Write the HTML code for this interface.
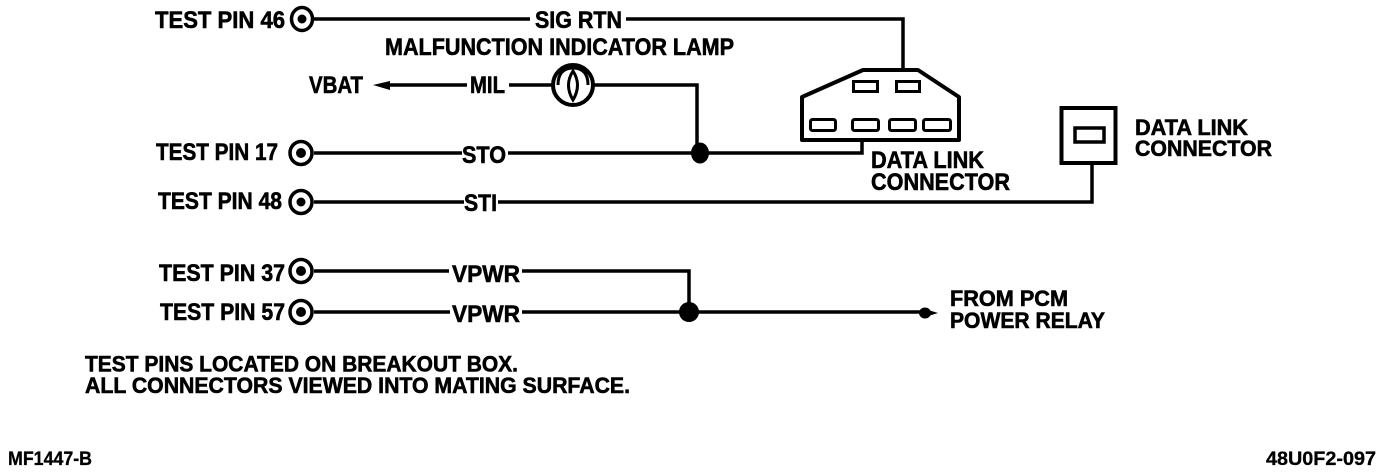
<!DOCTYPE html>
<html>
<head>
<meta charset="utf-8">
<style>
html,body{margin:0;padding:0;background:#fff;width:1392px;height:472px;overflow:hidden}
svg{display:block}
text{font-family:"Liberation Sans",sans-serif;font-weight:bold;fill:#000;stroke:#000;stroke-width:.6px}
.w{fill:none;stroke:#000;stroke-width:3.5}
.s{fill:none;stroke:#000;stroke-width:3}
</style>
</head>
<body>
<svg width="1392" height="472" viewBox="0 0 1392 472" xmlns="http://www.w3.org/2000/svg">
<rect width="1392" height="472" fill="#fff"/>

<!-- wires -->
<path class="w" d="M314 19H530M626 19H903V70"/>
<path class="w" d="M385 85H467M509 85H553M594 85H697V153"/>
<path class="w" d="M314 153H462M508 153H862V140"/>
<path class="w" d="M314 202H464M498 202H1092V163"/>
<path class="w" d="M314 271H449M522 271H689V312"/>
<path class="w" d="M314 312H450M522 312H924"/>

<!-- arrowheads -->
<path d="M373 85L390 81V90Z" fill="#000"/>
<ellipse cx="925" cy="313" rx="6" ry="5.500" fill="#000"/>
<path d="M925 309L938 313L925 317Z" fill="#000"/>

<!-- junctions -->
<ellipse cx="700" cy="153" rx="9" ry="10.500" fill="#000"/>
<circle cx="689" cy="312" r="10" fill="#000"/>

<!-- test pins -->
<g fill="#000">
<circle cx="302" cy="19" r="4.500"/>
<circle cx="301" cy="153" r="5"/>
<circle cx="301" cy="202" r="4.500"/>
<circle cx="301" cy="271" r="5"/>
<circle cx="301" cy="312" r="5"/>
</g>
<g fill="none" stroke="#000" stroke-width="3.500">
<ellipse cx="302" cy="19" rx="10.500" ry="11.500"/>
<ellipse cx="301" cy="153" rx="11" ry="11.500"/>
<ellipse cx="301" cy="202" rx="11" ry="11.500"/>
<ellipse cx="301" cy="271" rx="11" ry="11.500"/>
<ellipse cx="301" cy="312" rx="11" ry="11.500"/>
</g>

<!-- lamp -->
<circle cx="573" cy="85" r="20" fill="#fff" stroke="#000" stroke-width="4"/>
<path d="M558 85Q558 68 573 68Q588 68 588 85" fill="none" stroke="#000" stroke-width="3"/>
<path d="M573 71Q564 85 573 100Q582 85 573 71Z" fill="#fff" stroke="#000" stroke-width="3"/>

<!-- data link connector, large -->
<path d="M802 97L863 70H918L959 97V140H802Z" fill="#fff" stroke="#000" stroke-width="4" stroke-linejoin="round"/>
<g class="s">
<rect x="853.500" y="81.500" width="24" height="10" class="s"/>
<rect x="896.500" y="81.500" width="23" height="10" class="s"/>
<rect x="810.500" y="119.500" width="25" height="11" rx="2" class="s"/>
<rect x="852.500" y="119.500" width="26" height="11" rx="2" class="s"/>
<rect x="889.500" y="119.500" width="26" height="11" rx="2" class="s"/>
<rect x="923.500" y="119.500" width="27" height="11" rx="2" class="s"/>
</g>

<!-- data link connector, small -->
<rect x="1061.500" y="108" width="54" height="55" fill="#fff" stroke="#000" stroke-width="4"/>
<rect x="1075" y="128" width="29" height="14" fill="#fff" stroke="#000" stroke-width="3.500"/>

<!-- labels -->
<g font-size="24">
<text x="155" y="28" textLength="130" lengthAdjust="spacingAndGlyphs">TEST PIN 46</text>
<text x="156" y="160" textLength="122" lengthAdjust="spacingAndGlyphs">TEST PIN 17</text>
<text x="158" y="209" textLength="124" lengthAdjust="spacingAndGlyphs">TEST PIN 48</text>
<text x="159" y="281" textLength="126" lengthAdjust="spacingAndGlyphs">TEST PIN 37</text>
<text x="160" y="320" textLength="125" lengthAdjust="spacingAndGlyphs">TEST PIN 57</text>
<text x="535" y="28" textLength="87" lengthAdjust="spacingAndGlyphs">SIG RTN</text>
<text x="385" y="55" textLength="349" lengthAdjust="spacingAndGlyphs">MALFUNCTION INDICATOR LAMP</text>
<text x="309" y="93" textLength="54" lengthAdjust="spacingAndGlyphs">VBAT</text>
<text x="470" y="93" textLength="35" lengthAdjust="spacingAndGlyphs">MIL</text>
<text x="462" y="163" textLength="44" lengthAdjust="spacingAndGlyphs">STO</text>
<text x="464" y="211" textLength="33" lengthAdjust="spacingAndGlyphs">STI</text>
<text x="452" y="282" textLength="68" lengthAdjust="spacingAndGlyphs">VPWR</text>
<text x="452" y="322" textLength="68" lengthAdjust="spacingAndGlyphs">VPWR</text>
<text x="871" y="168" textLength="113" lengthAdjust="spacingAndGlyphs">DATA LINK</text>
<text x="871" y="190" textLength="139" lengthAdjust="spacingAndGlyphs">CONNECTOR</text>
</g>
<g font-size="22">
<text x="1135" y="135" textLength="113" lengthAdjust="spacingAndGlyphs">DATA LINK</text>
<text x="1135" y="156" textLength="137" lengthAdjust="spacingAndGlyphs">CONNECTOR</text>
<text x="950" y="306" textLength="118" lengthAdjust="spacingAndGlyphs">FROM PCM</text>
<text x="950" y="328" textLength="155" lengthAdjust="spacingAndGlyphs">POWER RELAY</text>
<text x="85" y="371.500" textLength="433" lengthAdjust="spacingAndGlyphs">TEST PINS LOCATED ON BREAKOUT BOX.</text>
<text x="85" y="393" textLength="545" lengthAdjust="spacingAndGlyphs">ALL CONNECTORS VIEWED INTO MATING SURFACE.</text>
</g>
<g font-size="19">
<text x="8" y="465" textLength="84" lengthAdjust="spacingAndGlyphs" style="stroke-width:.3px">MF1447-B</text>
<text x="1266" y="465" textLength="110" lengthAdjust="spacingAndGlyphs" style="stroke-width:.3px">48U0F2-097</text>
</g>
</svg>
</body>
</html>
